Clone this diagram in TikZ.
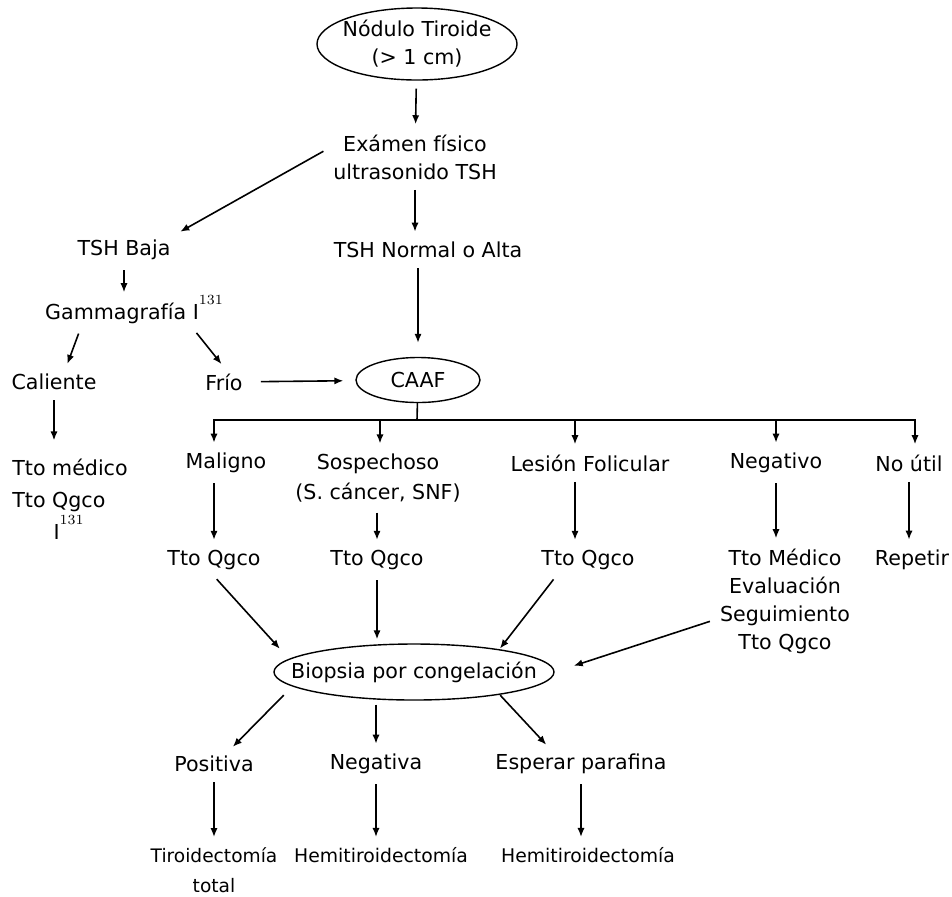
\documentclass[tikz,border=0pt]{standalone}
\usepackage{fontspec}
\setmainfont{DejaVu Sans}
\usetikzlibrary{shapes.geometric,arrows.meta}

\newcommand{\yodo}{$\mathrm{I}$\smash{\raisebox{1.3ex}{$\scriptstyle 131$}}}

\tikzset{
  texto/.style={align=center,inner sep=3pt,font=\fontsize{10.3}{14}\selectfont},
  chico/.style={texto,font=\fontsize{9.4}{14}\selectfont},
  elipse/.style={shape=ellipse,draw=black,line width=0.7pt,inner sep=0pt},
  flecha/.style={line width=0.8pt,-{Latex[length=4.5pt,width=3.6pt]},shorten <=2pt,shorten >=2pt},
}

\begin{document}
\begin{tikzpicture}[x=0.5pt,y=-0.5pt]
    \useasboundingbox (0,0) rectangle (952,896);

    \node[texto,elipse,inner xsep=-3pt,minimum width=100pt,minimum height=36pt] (nod) at (417,44) {Nódulo Tiroide\\(> 1 cm)};
    \node[texto] (exa) at (415,157) {Exámen físico\\ultrasonido TSH};
    \node[texto] (tshb) at (124,250) {TSH Baja};
    \node[texto] (tshn) at (428,250) {TSH Normal o Alta};
    \node[texto] (gam) at (134,313) {Gammagrafía \yodo};
    \node[texto] (cal) at (54,382) {Caliente};
    \node[texto] (frio) at (224,382) {Frío};
    \node[texto,elipse,minimum width=62pt,minimum height=22.5pt] (caaf) at (418,380) {CAAF};
    \node[texto,align=left,anchor=west,font=\fontsize{10.3}{16}\selectfont] (tto) at (6,499) {Tto médico\\Tto Qgco\\\hspace*{2em}\yodo};
    \coordinate (rama) at (417,420);

    \node[texto] (mal) at (226,463) {Maligno};
    \node[texto,font=\fontsize{10.3}{15}\selectfont] (sosp) at (378,478) {Sospechoso\\(S. cáncer, SNF)};
    \node[texto] (les) at (590,463) {Lesión Folicular};
    \node[texto] (neg) at (776,463) {Negativo};
    \node[texto] (nou) at (909,463) {No útil};

    \node[texto] (q1) at (214,560) {Tto Qgco};
    \node[texto] (q2) at (377,560) {Tto Qgco};
    \node[texto] (q3) at (588,560) {Tto Qgco};
    \node[texto] (negt) at (785,601) {Tto Médico\\Evaluación\\Seguimiento\\Tto Qgco};
    \node[texto] (rep) at (912,560) {Repetir};

    \node[texto,elipse,inner xsep=-12pt,minimum width=140pt,minimum height=28pt] (bio) at (414,672) {Biopsia por congelación};
    \node[texto] (pos) at (214,764) {Positiva};
    \node[texto] (nega) at (376,764) {Negativa};
    \node[texto] (esp) at (581,764) {Esperar parafina};
    \node[chico,font=\fontsize{9.3}{15}\selectfont] (tir) at (214,870) {Tiroidectomía\\total};
    \node[chico] (hem1) at (381,855) {Hemitiroidectomía};
    \node[chico] (hem2) at (588,855) {Hemitiroidectomía};

    \path [flecha] (nod) edge[shorten <=4pt] (exa);
    \path [flecha] (exa.175) edge (tshb.north east);
    \path [flecha] (exa.south) edge (exa.south |- tshn.north);
    \path [flecha] (tshb.south) edge (tshb.south |- gam.north);
    \path [flecha] (caaf.north |- tshn.south) edge[shorten >=7pt] (caaf);
    \path [flecha] ([xshift=-27pt]gam.south) edge ([xshift=6pt]cal.north);
    \path [flecha] ([xshift=30pt]gam.south) edge (frio.north);
    \path [flecha] (frio) edge[shorten <=6pt,shorten >=6pt] (caaf);
    \path [flecha] (cal.south) edge[shorten >=6pt] (cal.south |- tto.north);

    \draw [line width=0.8pt] (caaf) -- (rama);
    \draw [flecha,shorten <=0pt] (rama) -| ([xshift=-6pt]mal.north);
    \draw [flecha,shorten <=0pt] (rama) -| ([xshift=1pt]sosp.north);
    \draw [flecha,shorten <=0pt] (rama) -| ([xshift=-7.5pt]les.north);
    \draw [flecha,shorten <=0pt] (rama) -| (neg.north);
    \draw [flecha,shorten <=0pt] (rama) -| ([xshift=3pt]nou.north);

    \path [flecha] (q1 |- mal.south) edge (q1);
    \path [flecha] (q2 |- sosp.south) edge (q2);
    \path [flecha] ([xshift=-6.5pt]q3.north |- les.south) edge ([xshift=-6.5pt]q3.north);
    \path [flecha] (neg.south) edge (neg.south |- negt.north);
    \path [flecha] (nou.south) edge (nou.south |- rep.north);

    \path [flecha] (q1.south) edge ([xshift=-16pt]bio.north west);
    \path [flecha] (q2.south) edge (q2.south |- bio.north);
    \path [flecha] ([xshift=-16pt]q3.south) edge ([xshift=-8pt]bio.north east);
    \path [flecha] (negt.195) edge[shorten >=10pt] (bio.east);

    \path [flecha] ([xshift=-14pt]bio.south west) edge ([xshift=8pt]pos.north);
    \path [flecha] (nega |- bio.south) edge (nega);
    \path [flecha] ([xshift=-8pt]bio.south east) edge ([xshift=-16pt]esp.north);
    \path [flecha] (tir |- pos.south) edge (tir);
    \path [flecha] (nega.south) edge (nega.south |- hem1.north);
    \path [flecha] (esp.south) edge (esp.south |- hem2.north);
\end{tikzpicture}
\end{document}
